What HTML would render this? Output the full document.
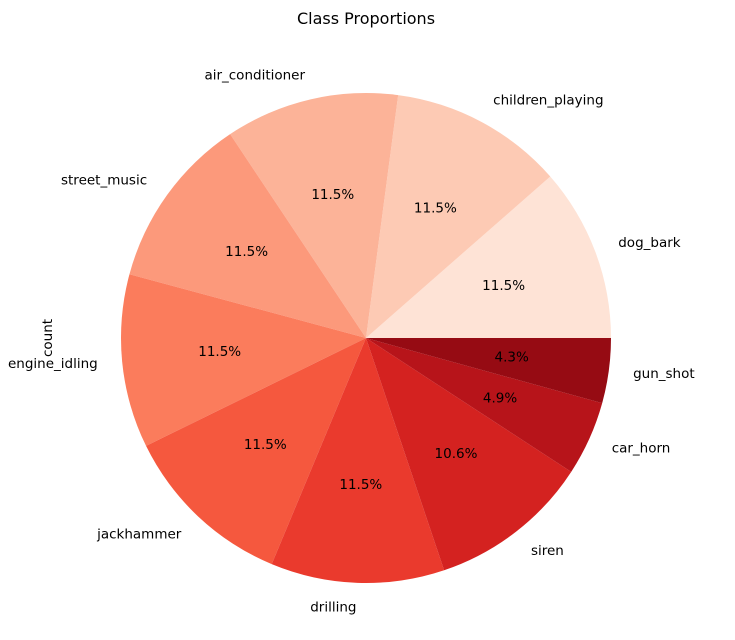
<!DOCTYPE html>
<html>
<head>
<meta charset="utf-8">
<style>
  html,body{margin:0;padding:0;background:#fff;}
  svg{display:block;font-family:"DejaVu Sans","Liberation Sans",sans-serif;}
</style>
</head>
<body>
<svg id="chart" width="735" height="640" viewBox="0 0 735 640">
  <text x="366" y="24" text-anchor="middle" font-size="16" fill="#000">Class Proportions</text>
  <text x="0" y="0" transform="translate(52,338) rotate(-90)" text-anchor="middle" font-size="13.5" fill="#000">count</text>
  <g id="slices"></g>
  <g id="labels"></g>
</svg>
<script>
const categories = ["dog_bark","children_playing","air_conditioner","street_music","engine_idling","jackhammer","drilling","siren","car_horn","gun_shot"];
const counts = [1000,1000,1000,1000,1000,1000,1000,929,429,374];
const colors = ["#fee3d6","#fdcab4","#fcb398","#fc997b","#fb7c5c","#f5583e","#ea3a2d","#d42220","#b7141a","#960b13"];

const NS = "http://www.w3.org/2000/svg";
const cx = 366, cy = 338, r = 245;
const total = counts.reduce((a,b)=>a+b,0);
const gS = document.getElementById("slices");
const gL = document.getElementById("labels");
let a0 = 0;
function pt(ang, rad){ return [cx + rad*Math.cos(ang), cy - rad*Math.sin(ang)]; }
counts.forEach((v,i)=>{
  const frac = v/total;
  const a1 = a0 + frac*2*Math.PI;
  const p0 = pt(a0,r), p1 = pt(a1,r);
  const large = (a1-a0) > Math.PI ? 1 : 0;
  const path = document.createElementNS(NS,"path");
  path.setAttribute("d",`M${cx},${cy} L${p0[0]},${p0[1]} A${r},${r} 0 ${large} 0 ${p1[0]},${p1[1]} Z`);
  path.setAttribute("fill",colors[i]);
  
  
  gS.appendChild(path);
  const mid = (a0+a1)/2;
  const lp = pt(mid, 1.1*r);
  const t = document.createElementNS(NS,"text");
  t.setAttribute("x",lp[0]);
  t.setAttribute("y",lp[1]+4);
  t.setAttribute("font-size","13.5");
  t.setAttribute("text-anchor", Math.cos(mid) >= 0 ? "start" : "end");
  t.textContent = categories[i];
  
  
  gL.appendChild(t);
  const pp = pt(mid, 0.6*r);
  const tp = document.createElementNS(NS,"text");
  tp.setAttribute("x",pp[0]);
  tp.setAttribute("y",pp[1]+4);
  tp.setAttribute("font-size","13.5");
  tp.setAttribute("text-anchor","middle");
  tp.textContent = (frac*100).toFixed(1) + "%";
  
  
  gL.appendChild(tp);
  a0 = a1;
});
</script>
</body>
</html>
